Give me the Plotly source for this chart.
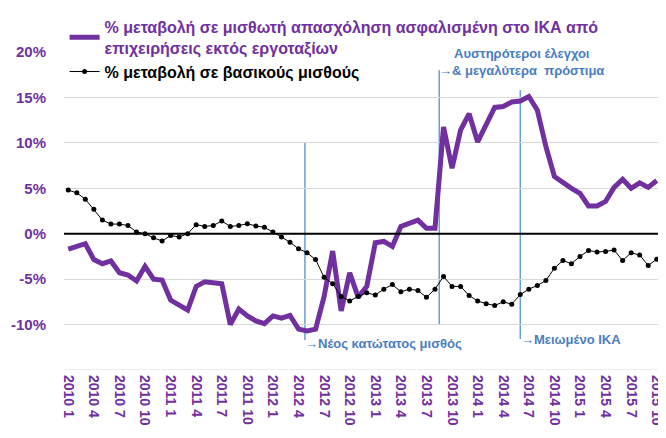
import plotly.graph_objects as go

# ---- data ----
years = [2010, 2011, 2012, 2013, 2014, 2015]
months = [f"{y} {m}" for y in years for m in range(1, 13)][:70]  # 2010 1 .. 2015 10

employment_change = [
    -1.7, -1.4, -1.1, -2.85, -3.3, -3.0, -4.3, -4.55, -5.2, -3.6,
    -5.0, -5.1, -7.3, -7.85, -8.4, -5.8, -5.3, -5.4, -5.5, -10.0,
    -8.3, -9.05, -9.6, -9.9, -9.05, -9.3, -9.0, -10.5, -10.7, -10.5,
    -6.9, -1.9, -8.5, -4.3, -7.0, -5.8, -1.0, -0.85, -1.4, 0.8,
    1.15, 1.5, 0.6, 0.6, 11.75, 7.2, 11.4, 13.2, 10.1, 12.1,
    13.9, 14.0, 14.5, 14.6, 15.1, 13.6, 9.6, 6.3, 5.6, 5.0,
    4.45, 3.05, 3.05, 3.55, 5.1, 6.0, 5.0, 5.6, 5.1, 5.85,
]
wage_change = [
    4.8, 4.5, 3.8, 2.7, 1.5, 1.06, 1.06, 0.9, 0.2, 0.0,
    -0.45, -0.8, -0.2, -0.35, 0.0, 1.0, 0.8, 0.9, 1.4, 0.8,
    0.9, 1.1, 0.85, 0.7, 0.2, -0.35, -0.95, -1.65, -2.1, -2.85,
    -4.8, -5.5, -6.9, -7.4, -6.9, -6.5, -6.75, -6.1, -5.6, -6.4,
    -6.1, -6.25, -7.0, -6.1, -4.7, -5.8, -5.8, -6.8, -7.4, -7.7,
    -7.9, -7.5, -7.75, -6.7, -6.1, -5.7, -5.15, -3.8, -2.95, -3.3,
    -2.5, -1.85, -2.0, -1.95, -1.8, -2.95, -2.1, -2.35, -3.5, -2.8,
]
y_ticks = [-10, -5, 0, 5, 10, 15, 20]
y_tick_labels = ["-10%", "-5%", "0%", "5%", "10%", "15%", "20%"]

# event markers: (x position in months from 2010 1, line top, line bottom)
events = [
    (27.75, 10.1, -11.7),
    (43.5, 18.0, -10.0),
    (53.0, 15.8, -11.6),
]

PURPLE = "#7030a0"
BLUE_LINE = "#6a9fd8"
BLUE_TEXT = "#4a7ebf"
FONT = "Liberation Sans"

x = list(range(len(months)))

fig = go.Figure()
fig.add_trace(go.Scatter(
    x=x, y=employment_change, mode="lines",
    line=dict(color=PURPLE, width=5),
    name=f"<span style='color:{PURPLE}'><b>% μεταβολή σε μισθωτή απασχόληση ασφαλισμένη στο ΙΚΑ από<br>επιχειρήσεις εκτός εργοταξίων</b></span>",
))
fig.add_trace(go.Scatter(
    x=x, y=wage_change, mode="lines+markers",
    line=dict(color="black", width=1),
    marker=dict(color="black", size=5),
    name="<b>% μεταβολή σε βασικούς μισθούς</b>",
))

shapes = []
for ex, top, bot in events:
    shapes.append(dict(type="line", xref="x", yref="y", x0=ex, x1=ex, y0=bot, y1=top,
                       line=dict(color=BLUE_LINE, width=1.5), layer="below"))
# zero line
shapes.append(dict(type="line", xref="paper", yref="y", x0=0, x1=1, y0=0, y1=0,
                   line=dict(color="black", width=2)))
# bottom axis line
shapes.append(dict(type="line", xref="paper", yref="y", x0=0, x1=1, y0=-15, y1=-15,
                   line=dict(color="#d9d9d9", width=1)))

ann_font = dict(family=FONT, size=13, color=BLUE_TEXT)
annotations = [
    dict(x=events[0][0], y=-12.03, xref="x", yref="y", text="<b>→Νέος κατώτατος μισθός</b>",
         showarrow=False, xanchor="left", yanchor="middle", font=ann_font, xshift=-2),
    dict(x=53.2, y=19.8, xref="x", yref="y", text="<b>Αυστηρότεροι έλεγχοι</b>",
         showarrow=False, xanchor="center", yanchor="middle", font=ann_font),
    dict(x=events[1][0], y=18.0, xref="x", yref="y", text="<b>→& μεγαλύτερα  πρόστιμα</b>",
         showarrow=False, xanchor="left", yanchor="middle", font=ann_font, xshift=-2),
    dict(x=events[2][0], y=-11.6, xref="x", yref="y", text="<b>→Μειωμένο ΙΚΑ</b>",
         showarrow=False, xanchor="left", yanchor="middle", font=ann_font, xshift=-1),
]

fig.update_layout(
    width=666, height=438,
    margin=dict(l=56, r=12.5, t=44, b=76, autoexpand=False),
    paper_bgcolor="white", plot_bgcolor="white",
    font=dict(family=FONT, size=14, color="black"),
    shapes=shapes, annotations=annotations,
    showlegend=True,
    legend=dict(x=0.001, y=1.132, xanchor="left", yanchor="top",
                bgcolor="rgba(0,0,0,0)", font=dict(family=FONT, size=16),
                itemwidth=30, tracegroupgap=0),
    xaxis=dict(
        range=[-0.5, 69.5], tickmode="array",
        tickvals=x[::3], ticktext=[f"<b>{m}</b>" for m in months[::3]],
        tickangle=90, showgrid=False, zeroline=False, showline=False, automargin=False,
        ticks="", ticklabelstandoff=4, tickfont=dict(family=FONT, size=14, color=PURPLE),
    ),
    yaxis=dict(
        range=[-15, 20], tickmode="array", tickvals=y_ticks,
        ticktext=[f"<b>{t}</b>" for t in y_tick_labels],
        showgrid=True, gridcolor="#d9d9d9", gridwidth=1, zeroline=False, showline=False,
        ticks="", ticklabelstandoff=17, automargin=False,
        tickfont=dict(family=FONT, size=15, color=PURPLE),
    ),
)

fig.write_html("out.html")
